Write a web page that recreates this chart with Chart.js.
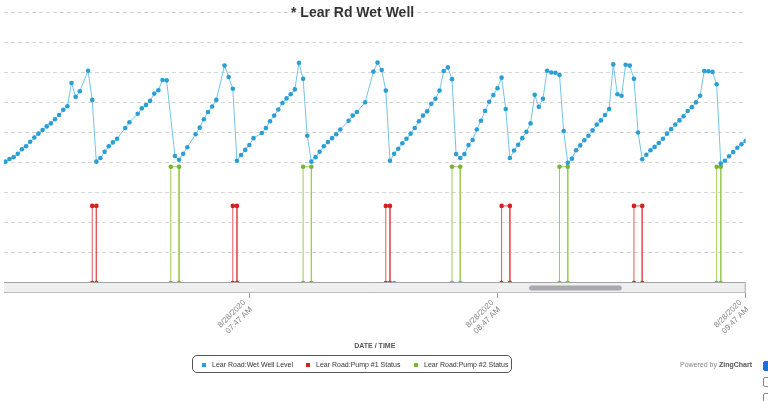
<!DOCTYPE html>
<html>
<head>
<meta charset="utf-8">
<title>Lear Rd Wet Well</title>
<script src="https://cdn.jsdelivr.net/npm/chart.js@4"></script>
<style>
  body { margin: 0; background: #fff; font-family: "Liberation Sans", Arial, sans-serif; }
  #wrap { position: relative; width: 768px; height: 401px; overflow: hidden; }
  #wellChart { position: absolute; left: 0; top: 0; }
  .chart-title { position: absolute; left: 291px; top: 4px; font-size: 14px; line-height: 16px; font-weight: bold; color: #333; white-space: nowrap; }
  .legend { position: absolute; left: 192px; top: 355px; width: 320px; height: 18px; border: 1px solid #555; border-radius: 5px; box-sizing: border-box; }
  .legend span { position: absolute; font-size: 7px; line-height: 8px; color: #333; white-space: nowrap; top: 5px; }
  .legend i { position: absolute; width: 4px; height: 4px; top: 7px; }
  .powered { position: absolute; left: 680px; top: 361px; font-size: 7px; line-height: 8px; color: #888; white-space: nowrap; }
  .powered b { color: #555; }
  .cb { position: absolute; left: 763px; width: 10px; height: 10px; border: 1px solid #888; border-radius: 2px; box-sizing: border-box; background: #fff; }
  .cb.on { background: #1e6fd9; border-color: #1e6fd9; }
</style>
</head>
<body>
<div id="wrap">
  <canvas id="wellChart" width="768" height="401"></canvas>
  <div class="chart-title">* Lear Rd Wet Well</div>
  <div class="legend">
    <i style="left:9px;background:#2a9fd6"></i><span style="left:19px">Lear Road:Wet Well Level</span>
    <i style="left:113px;background:#d81e1e"></i><span style="left:123px">Lear Road:Pump #1 Status</span>
    <i style="left:221px;background:#79b530"></i><span style="left:231px">Lear Road:Pump #2 Status</span>
  </div>
  <div class="powered">Powered by <b>ZingChart</b></div>
  <div class="cb on" style="top:361px"></div>
  <div class="cb" style="top:377px"></div>
  <div class="cb" style="top:393px"></div>
</div>
<script>
// minutes after 06:47 on 8/28/2020
const START_MINUTE = 6 * 60 + 47;
const DATE_LABEL = '8/28/2020';

// wet well level, one reading per minute (a few minutes missing)
const levelMinutes = [
    0, 1, 2, 3, 4, 5, 6, 7, 8, 9,
    10, 11, 12, 13, 14, 15, 16, 17, 18, 19,
    21, 22, 23, 24, 25, 26, 27, 28, 30, 31,
    33, 34, 35, 36, 37, 38, 39, 40, 42, 43,
    44, 45, 47, 48, 49, 50, 51, 52, 54, 55,
    56, 57, 58, 59, 60, 61, 63, 64, 65, 66,
    67, 68, 69, 70, 71, 72, 73, 74, 75, 76,
    77, 78, 79, 80, 81, 82, 84, 85, 86, 88,
    90, 91, 92, 93, 94, 95, 96, 97, 98, 99,
    100, 101, 102, 103, 104, 105, 106, 107, 108, 109,
    110, 111, 112, 113, 114, 115, 116, 117, 118, 119,
    120, 121, 122, 123, 124, 125, 126, 127, 128, 129,
    130, 131, 132, 133, 134, 135, 136, 137, 138, 139,
    140, 141, 142, 143, 144, 145, 146, 147, 148, 149,
    150, 151, 152, 153, 154, 155, 156, 157, 158, 159,
    160, 161, 162, 163, 164, 165, 166, 167, 168, 169,
    170, 171, 172, 173, 174, 175, 176, 177, 178, 179, 180
];
const levelValues = [
    3.95, 4.03, 4.12, 4.18, 4.29, 4.44, 4.54, 4.69, 4.83, 4.96,
    5.08, 5.20, 5.30, 5.44, 5.58, 5.75, 5.87, 6.64, 6.18, 6.37,
    7.05, 6.08, 4.03, 4.15, 4.36, 4.54, 4.67, 4.79, 5.15, 5.34,
    5.62, 5.80, 5.91, 6.05, 6.29, 6.40, 6.74, 6.73, 4.22, 4.09,
    4.29, 4.51, 4.94, 5.16, 5.44, 5.68, 5.86, 6.08, 7.22, 6.84,
    6.45, 4.06, 4.25, 4.42, 4.58, 4.81, 4.98, 5.15, 5.37, 5.56,
    5.76, 5.98, 6.13, 6.27, 6.43, 7.31, 6.78, 4.89, 4.03, 4.18,
    4.36, 4.54, 4.68, 4.81, 4.94, 5.10, 5.39, 5.56, 5.68, 6.00,
    7.02, 7.32, 7.07, 6.39, 4.06, 4.29, 4.46, 4.64, 4.79, 4.96,
    5.15, 5.37, 5.56, 5.70, 5.95, 6.12, 6.39, 7.04, 7.16, 6.77,
    4.28, 4.15, 4.28, 4.58, 4.75, 5.10, 5.39, 5.71, 6.02, 6.24,
    6.47, 6.82, 5.78, 4.15, 4.40, 4.59, 4.81, 5.02, 5.30, 6.25,
    5.85, 6.12, 7.05, 6.99, 6.98, 6.91, 5.05, 3.99, 4.13, 4.41,
    4.57, 4.74, 4.89, 5.07, 5.26, 5.40, 5.58, 5.78, 7.26, 6.27,
    6.22, 7.25, 7.22, 6.78, 5.00, 4.11, 4.26, 4.41, 4.52, 4.65,
    4.79, 4.96, 5.11, 5.26, 5.40, 5.54, 5.71, 5.84, 6.00, 6.22,
    7.04, 7.03, 7.01, 6.60, 3.97, 4.06, 4.21, 4.35, 4.49, 4.61, 4.72
];

// pump status (on/off switch points)
const pump1Minutes = [22, 22, 23, 23, 56, 56, 57, 57, 93, 93, 94, 94, 121, 121, 123, 123, 153, 153, 155, 155];
const pump1Values = [0, 2.56, 2.56, 0, 0, 2.56, 2.56, 0, 0, 2.56, 2.56, 0, 0, 2.56, 2.56, 0, 0, 2.56, 2.56, 0];
const pump2Minutes = [41, 41, 43, 43, 73, 73, 75, 75, 95, 109, 109, 111, 111, 135, 135, 137, 137, 173, 173, 174, 174];
const pump2Values = [0, 3.86, 3.86, 0, 0, 3.86, 3.86, 0, 0, 0, 3.86, 3.86, 0, 0, 3.86, 3.86, 0, 0, 3.86, 3.86, 0];

const tickMinutes = [60, 120, 180];

function toPoints(xs, ys) {
    return xs.map((x, i) => ({ x: x, y: ys[i] }));
}

function timeLabel(value) {
    const total = START_MINUTE + Math.round(value);
    let h = Math.floor(total / 60) % 24;
    const m = total % 60;
    const ampm = h >= 12 ? 'PM' : 'AM';
    h = h % 12 === 0 ? 12 : h % 12;
    return [DATE_LABEL, String(h).padStart(2, '0') + ':' + String(m).padStart(2, '0') + ' ' + ampm];
}

// zoom scroll bar under the plot, drawn over the baseline
const scrollBand = {
    id: 'scrollBand',
    afterDatasetsDraw(chart) {
        const { ctx, chartArea: a } = chart;
        const w = a.right - a.left;
        const b = Math.round(a.bottom);
        ctx.save();
        ctx.fillStyle = '#efefef';
        ctx.fillRect(a.left, b - 1, w, 11);
        ctx.strokeStyle = '#a3a3a3';
        ctx.lineWidth = 1;
        ctx.beginPath();
        ctx.moveTo(a.left, b - 0.5);
        ctx.lineTo(a.right, b - 0.5);
        ctx.stroke();
        ctx.strokeStyle = '#bdbdbd';
        ctx.beginPath();
        ctx.moveTo(a.left, b + 9.5);
        ctx.lineTo(a.right, b + 9.5);
        ctx.moveTo(a.right - 0.5, b - 1);
        ctx.lineTo(a.right - 0.5, b + 10);
        ctx.stroke();
        // handle
        const hx = a.left + w * 0.708, hw = w * 0.125;
        ctx.fillStyle = '#a9a9ad';
        ctx.beginPath();
        ctx.roundRect(hx, b + 2.5, hw, 5, 2.5);
        ctx.fill();
        ctx.restore();
    }
};

const ctx = document.getElementById('wellChart');

new Chart(ctx, {
    type: 'line',
    data: {
        datasets: [{
            label: 'Lear Road:Wet Well Level',
            data: toPoints(levelMinutes, levelValues),
            borderColor: '#74c4e6',
            backgroundColor: '#2a9fd6',
            pointBackgroundColor: '#2a9fd6',
            borderWidth: 1,
            pointRadius: 2.3,
            pointBorderWidth: 0,
            tension: 0
        }, {
            label: 'Lear Road:Pump #1 Status',
            data: toPoints(pump1Minutes, pump1Values),
            borderColor: '#e35a5a',
            backgroundColor: '#d81e1e',
            pointBackgroundColor: '#d81e1e',
            borderWidth: 1,
            pointRadius: 2.3,
            pointBorderWidth: 0,
            tension: 0
        }, {
            label: 'Lear Road:Pump #2 Status',
            data: toPoints(pump2Minutes, pump2Values),
            borderColor: '#9ccc5c',
            backgroundColor: '#79b530',
            pointBackgroundColor: '#79b530',
            borderWidth: 1,
            pointRadius: 2.3,
            pointBorderWidth: 0,
            tension: 0
        }]
    },
    options: {
        responsive: false,
        animation: false,
        devicePixelRatio: 1,
        layout: {
            padding: { left: 0, right: 22.4, top: 12, bottom: 0 }
        },
        scales: {
            x: {
                type: 'linear',
                min: 0.67,
                max: 180,
                afterBuildTicks: function (scale) {
                    scale.ticks = tickMinutes.map(v => ({ value: v }));
                },
                afterFit: function (scale) {
                    scale.height = 118;
                },
                border: { display: false },
                grid: {
                    drawOnChartArea: false,
                    tickLength: 15,
                    color: '#999'
                },
                ticks: {
                    autoSkip: false,
                    minRotation: 45,
                    maxRotation: 45,
                    padding: 0,
                    labelOffset: -5,
                    color: '#888',
                    font: { family: '"Liberation Sans", Arial, sans-serif', size: 8 },
                    callback: function (value) { return timeLabel(value); }
                },
                title: {
                    display: true,
                    text: 'DATE / TIME',
                    color: '#555',
                    font: { family: '"Liberation Sans", Arial, sans-serif', size: 7, weight: 'bold' },
                    padding: { top: 0, bottom: 51 }
                }
            },
            y: {
                min: 0,
                max: 9,
                afterFit: function (scale) {
                    scale.width = 0;
                },
                border: { display: false, dash: [4, 3] },
                grid: {
                    color: '#d6d6d6',
                    drawTicks: false
                },
                ticks: { display: false, stepSize: 1 }
            }
        },
        plugins: {
            legend: { display: false },
            tooltip: { enabled: false }
        }
    },
    plugins: [scrollBand]
});
</script>
</body>
</html>
